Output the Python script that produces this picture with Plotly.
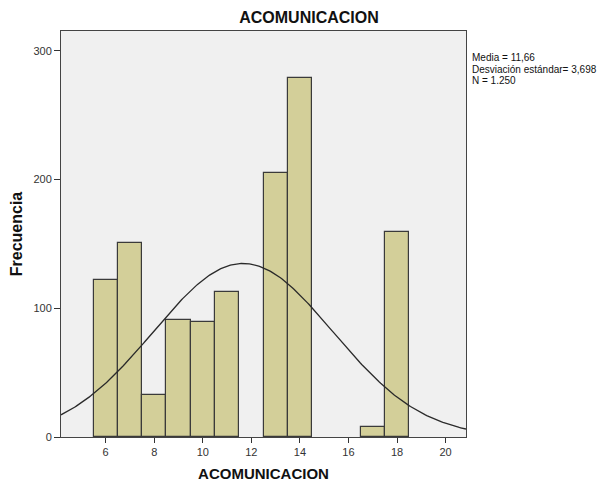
import numpy as np
import plotly.graph_objects as go

# Histogram data (bin centers, counts)
bin_centers = [6, 7, 8, 9, 10, 11, 13, 14, 17, 18]
counts = [122, 151, 33, 91, 89, 113, 205, 279, 8, 159]
x_ticks = [6, 8, 10, 12, 14, 16, 18, 20]
y_ticks = [0, 100, 200, 300]

# Summary statistics shown on the chart
media = 11.66
desv = 3.698
n_total = 1250
bin_width = 1.0
stat_lines = ["Media = 11,66", "Desviación estándar= 3,698", "N = 1.250"]

x_range = [4.16, 20.84]
y_range = [0, 315.5]

xs = np.linspace(x_range[0], x_range[1], 300)
ys = n_total * bin_width / (desv * np.sqrt(2 * np.pi)) * np.exp(-0.5 * ((xs - media) / desv) ** 2)

# page body has an 8px margin; size figure to compensate
W, H = 601, 474
ML, MR, MT, MB = 53, 143, 23, 45
plot_h = H - MT - MB

fig = go.Figure()
fig.add_trace(go.Bar(
    x=bin_centers, y=counts, width=bin_width,
    marker=dict(color="#D3CF99", line=dict(color="#3A3A3A", width=1.2)),
    hoverinfo="x+y", showlegend=False,
))
fig.add_trace(go.Scatter(
    x=xs, y=ys, mode="lines",
    line=dict(color="#2A2A2A", width=1.3),
    showlegend=False, hoverinfo="skip",
))

font_family = "Arial, Liberation Sans, sans-serif"
fig.update_layout(
    width=W, height=H,
    margin=dict(l=ML, r=MR, t=MT, b=MB, autoexpand=False),
    paper_bgcolor="white", plot_bgcolor="#F0F0F0",
    font=dict(family=font_family, color="#333333", size=11),
    title=dict(text="<b>ACOMUNICACION</b>", x=301 / W, xanchor="center",
               y=1 - 9.5 / H, yanchor="middle",
               font=dict(size=16, color="#111111")),
    bargap=0,
)
fig.update_xaxes(
    range=x_range, tickvals=x_ticks, ticks="outside", ticklen=5, tickcolor="#333333",
    showline=True, linecolor="#444444", linewidth=1, mirror=True,
    showgrid=False, zeroline=False, automargin=False,
    title=dict(text="<b>ACOMUNICACION</b>", font=dict(size=15, color="#111111"), standoff=12),
    tickfont=dict(size=11, color="#333333"),
)
fig.update_yaxes(
    range=y_range, tickvals=y_ticks, ticks="outside", ticklen=6, tickcolor="#333333",
    showline=True, linecolor="#444444", linewidth=1, mirror=True,
    showgrid=False, zeroline=False, automargin=False,
    title=dict(text="<b>Frecuencia</b>", font=dict(size=16, color="#111111"), standoff=10),
    tickfont=dict(size=11, color="#333333"),
)

line_centers_page = [57.7, 69.3, 80.9]
for txt, yc in zip(stat_lines, line_centers_page):
    fig.add_annotation(
        text=txt, xref="paper", yref="paper", x=1.0, y=(437 - yc) / plot_h,
        xshift=4, xanchor="left", yanchor="middle", align="left", showarrow=False,
        font=dict(size=10, color="#111111", family=font_family),
    )

fig.write_html("out.html")
